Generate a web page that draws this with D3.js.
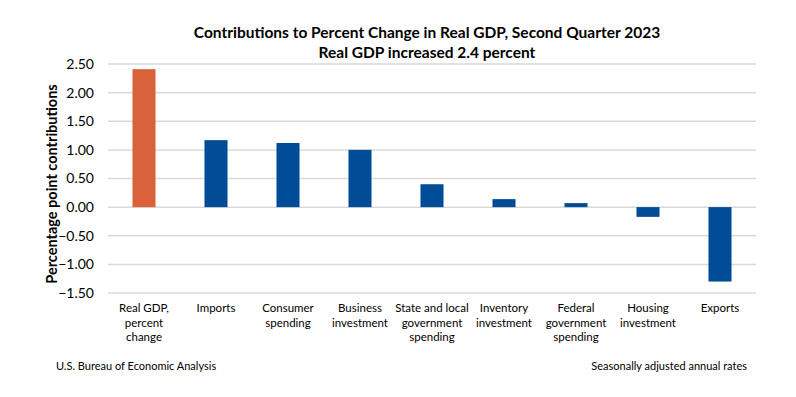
<!DOCTYPE html>
<html>
<head>
<meta charset="utf-8">
<script src="https://cdn.jsdelivr.net/npm/d3@7"></script>
<style>
  body { margin: 0; background: #fff; }
  text { font-family: Lato, 'Open Sans', sans-serif; fill: #000; }
  .grid line { stroke: #d9d9d9; stroke-width: 1.5; }
</style>
</head>
<body>
<div id="chart"></div>
<script>
// categories (label lines) and values
const categories = [
    ['Real GDP,', 'percent', 'change'],
    ['Imports'],
    ['Consumer', 'spending'],
    ['Business', 'investment'],
    ['State and local', 'government', 'spending'],
    ['Inventory', 'investment'],
    ['Federal', 'government', 'spending'],
    ['Housing', 'investment'],
    ['Exports'],
];
const values = [2.41, 1.17, 1.12, 1.0, 0.4, 0.14, 0.07, -0.17, -1.3];
const yTicks = [2.5, 2.0, 1.5, 1.0, 0.5, 0.0, -0.5, -1.0, -1.5];

const width = 796, height = 397;
const margin = { top: 64, right: 40, bottom: 104, left: 108 };
const innerW = 756 - margin.left;
const innerH = 293 - margin.top;

let svg = d3
    .select('#chart')
    .append('svg')
    .attr('width', width)
    .attr('height', height);

// titles
svg.append('text')
    .attr('x', 427)
    .attr('y', 38)
    .attr('text-anchor', 'middle')
    .style('font-weight', 'bold')
    .style('font-size', '15.5px')
    .text('Contributions to Percent Change in Real GDP, Second Quarter 2023');

svg.append('text')
    .attr('x', 427)
    .attr('y', 58)
    .attr('text-anchor', 'middle')
    .style('font-weight', 'bold')
    .style('font-size', '15.5px')
    .text('Real GDP increased 2.4 percent');

let g = svg.append('g')
    .attr('transform', 'translate(' + margin.left + ',' + margin.top + ')');

let x = d3.scaleBand()
    .domain(d3.range(categories.length))
    .range([0, innerW])
    .paddingInner(0.68)
    .paddingOuter(0.34);
let y = d3.scaleLinear().domain([-1.5, 2.5]).range([innerH, 0]);

// gridlines
g.append('g')
    .attr('class', 'grid')
    .selectAll('line')
    .data(yTicks)
    .enter()
    .append('line')
    .attr('x1', 0)
    .attr('x2', innerW)
    .attr('y1', (d) => y(d))
    .attr('y2', (d) => y(d));

// y axis labels
let yAxis = g.append('g')
    .call(d3.axisLeft(y).tickValues(yTicks).tickFormat(d3.format('.2f')).tickSize(0).tickPadding(14));
yAxis.select('.domain').remove();
yAxis.selectAll('text')
    .style('font-size', '14px')
    .style('font-family', 'Lato, sans-serif');

g.append('text')
    .attr('transform', 'rotate(-90)')
    .attr('x', -120)
    .attr('y', -51)
    .attr('text-anchor', 'middle')
    .style('font-weight', 'bold')
    .style('font-size', '14.5px')
    .text('Percentage point contributions');

// bars
g.selectAll('.bar')
    .data(values)
    .enter()
    .append('rect')
    .attr('class', 'bar')
    .attr('x', (d, i) => x(i))
    .attr('width', x.bandwidth())
    .attr('y', (d) => y(Math.max(0, d)))
    .attr('height', (d) => Math.abs(y(d) - y(0)))
    .attr('fill', (d, i) => (i === 0 ? '#d9623b' : '#004c97'));

// category labels
let labels = g.selectAll('.cat')
    .data(categories)
    .enter()
    .append('text')
    .attr('class', 'cat')
    .attr('text-anchor', 'middle')
    .attr('transform', (d, i) => 'translate(' + (x(i) + x.bandwidth() / 2) + ',' + (innerH + 19) + ')')
    .style('font-size', '11.5px');
labels.selectAll('tspan')
    .data((d) => d)
    .enter()
    .append('tspan')
    .attr('x', 0)
    .attr('dy', (d, i) => (i === 0 ? 0 : 14.5))
    .text((d) => d);

// footer
svg.append('text')
    .attr('x', 56)
    .attr('y', 370)
    .style('font-size', '11px')
    .text('U.S. Bureau of Economic Analysis');

svg.append('text')
    .attr('x', 747)
    .attr('y', 370)
    .attr('text-anchor', 'end')
    .style('font-size', '11px')
    .text('Seasonally adjusted annual rates');
</script>
</body>
</html>
